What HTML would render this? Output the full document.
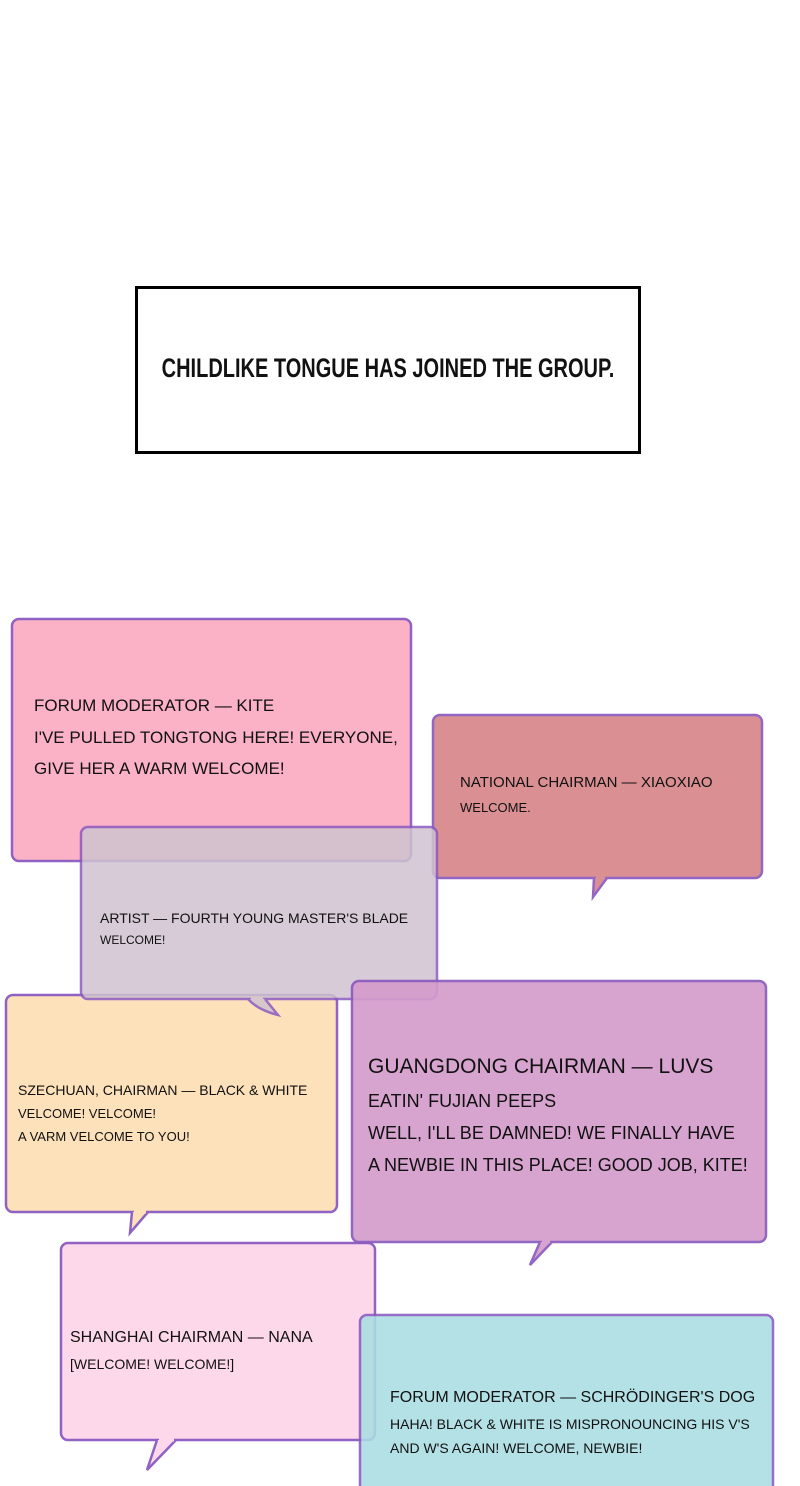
<!DOCTYPE html>
<html><head><meta charset="utf-8"><style>
body{margin:0;width:800px;height:1486px;background:#fff;position:relative;overflow:hidden;font-family:"Liberation Sans",sans-serif;color:#111}
.t{position:absolute;white-space:nowrap;line-height:1}
svg{position:absolute;left:0;top:0}
</style></head><body>
<div style="position:absolute;left:135px;top:286px;width:500px;height:162px;border:3px solid #000"></div>
<div class="t" style="left:135px;width:506px;top:359px;text-align:center;font-family:'Liberation Sans Narrow','Liberation Sans',sans-serif;font-weight:bold;font-size:20px;transform:scaleY(1.35)">CHILDLIKE TONGUE HAS JOINED THE GROUP.</div>

<svg width="800" height="1486" viewBox="0 0 800 1486">
<g stroke="#8a5ac0" stroke-width="2.5">
<g opacity="0.95"><rect x="12" y="619" width="399" height="242" rx="7" fill="#fbadc3"/></g>
<g opacity="0.92"><rect x="433" y="715" width="329" height="163" rx="7" fill="#d7868a"/>
<path d="M594 878 L593 897 L607 878" fill="#d7868a"/><line x1="596" y1="878" x2="605" y2="878" stroke="#d7868a" stroke-width="3"/></g>
<g opacity="0.95"><rect x="6" y="995" width="331" height="217" rx="7" fill="#fde0b8"/>
<path d="M132 1212 L130 1233 L148 1212" fill="#fde0b8"/><line x1="134" y1="1212" x2="146" y2="1212" stroke="#fde0b8" stroke-width="3"/></g>
<g opacity="0.85"><rect x="81" y="827" width="356" height="172" rx="7" fill="#cfc3cf"/>
<path d="M248 999 Q258 1010 278 1015 L265 999" fill="#cfc3cf"/><line x1="251" y1="999" x2="263" y2="999" stroke="#cfc3cf" stroke-width="3"/></g>
<g opacity="0.92"><rect x="352" y="981" width="414" height="261" rx="7" fill="#d49ccb"/>
<path d="M540 1242 L530 1265 L552 1242" fill="#d49ccb"/><line x1="542" y1="1242" x2="550" y2="1242" stroke="#d49ccb" stroke-width="3"/></g>
<g opacity="0.95"><rect x="61" y="1243" width="314" height="197" rx="7" fill="#fdd6ea"/>
<path d="M157 1440 L147 1470 L176 1440" fill="#fdd6ea"/><line x1="159" y1="1440" x2="174" y2="1440" stroke="#fdd6ea" stroke-width="3"/></g>
<g opacity="0.88"><rect x="360" y="1315" width="413" height="200" rx="7" fill="#aadde3"/></g>
</g></svg>

<div class="t" style="left:34px;top:697px;font-size:17px">FORUM MODERATOR — KITE</div>
<div class="t" style="left:34px;top:729px;font-size:17px">I'VE PULLED TONGTONG HERE! EVERYONE,</div>
<div class="t" style="left:34px;top:760px;font-size:17px">GIVE HER A WARM WELCOME!</div>

<div class="t" style="left:460px;top:775px;font-size:15px">NATIONAL CHAIRMAN — XIAOXIAO</div>
<div class="t" style="left:460px;top:801px;font-size:13px">WELCOME.</div>

<div class="t" style="left:100px;top:911px;font-size:14px">ARTIST — FOURTH YOUNG MASTER'S BLADE</div>
<div class="t" style="left:100px;top:934px;font-size:12px">WELCOME!</div>

<div class="t" style="left:18px;top:1083px;font-size:14px">SZECHUAN, CHAIRMAN — BLACK &amp; WHITE</div>
<div class="t" style="left:18px;top:1107px;font-size:13px">VELCOME! VELCOME!</div>
<div class="t" style="left:18px;top:1130px;font-size:13px">A VARM VELCOME TO YOU!</div>

<div class="t" style="left:368px;top:1056px;font-size:21px">GUANGDONG CHAIRMAN — LUVS</div>
<div class="t" style="left:368px;top:1092px;font-size:18px">EATIN' FUJIAN PEEPS</div>
<div class="t" style="left:368px;top:1124px;font-size:18px">WELL, I'LL BE DAMNED! WE FINALLY HAVE</div>
<div class="t" style="left:368px;top:1156px;font-size:18px">A NEWBIE IN THIS PLACE! GOOD JOB, KITE!</div>

<div class="t" style="left:70px;top:1330px;font-size:16px">SHANGHAI CHAIRMAN — NANA</div>
<div class="t" style="left:70px;top:1357px;font-size:14px">[WELCOME! WELCOME!]</div>

<div class="t" style="left:390px;top:1390px;font-size:16px">FORUM MODERATOR — SCHRÖDINGER'S DOG</div>
<div class="t" style="left:390px;top:1417px;font-size:14px">HAHA! BLACK &amp; WHITE IS MISPRONOUNCING HIS V'S</div>
<div class="t" style="left:390px;top:1441px;font-size:14px">AND W'S AGAIN! WELCOME, NEWBIE!</div>
</body></html>
